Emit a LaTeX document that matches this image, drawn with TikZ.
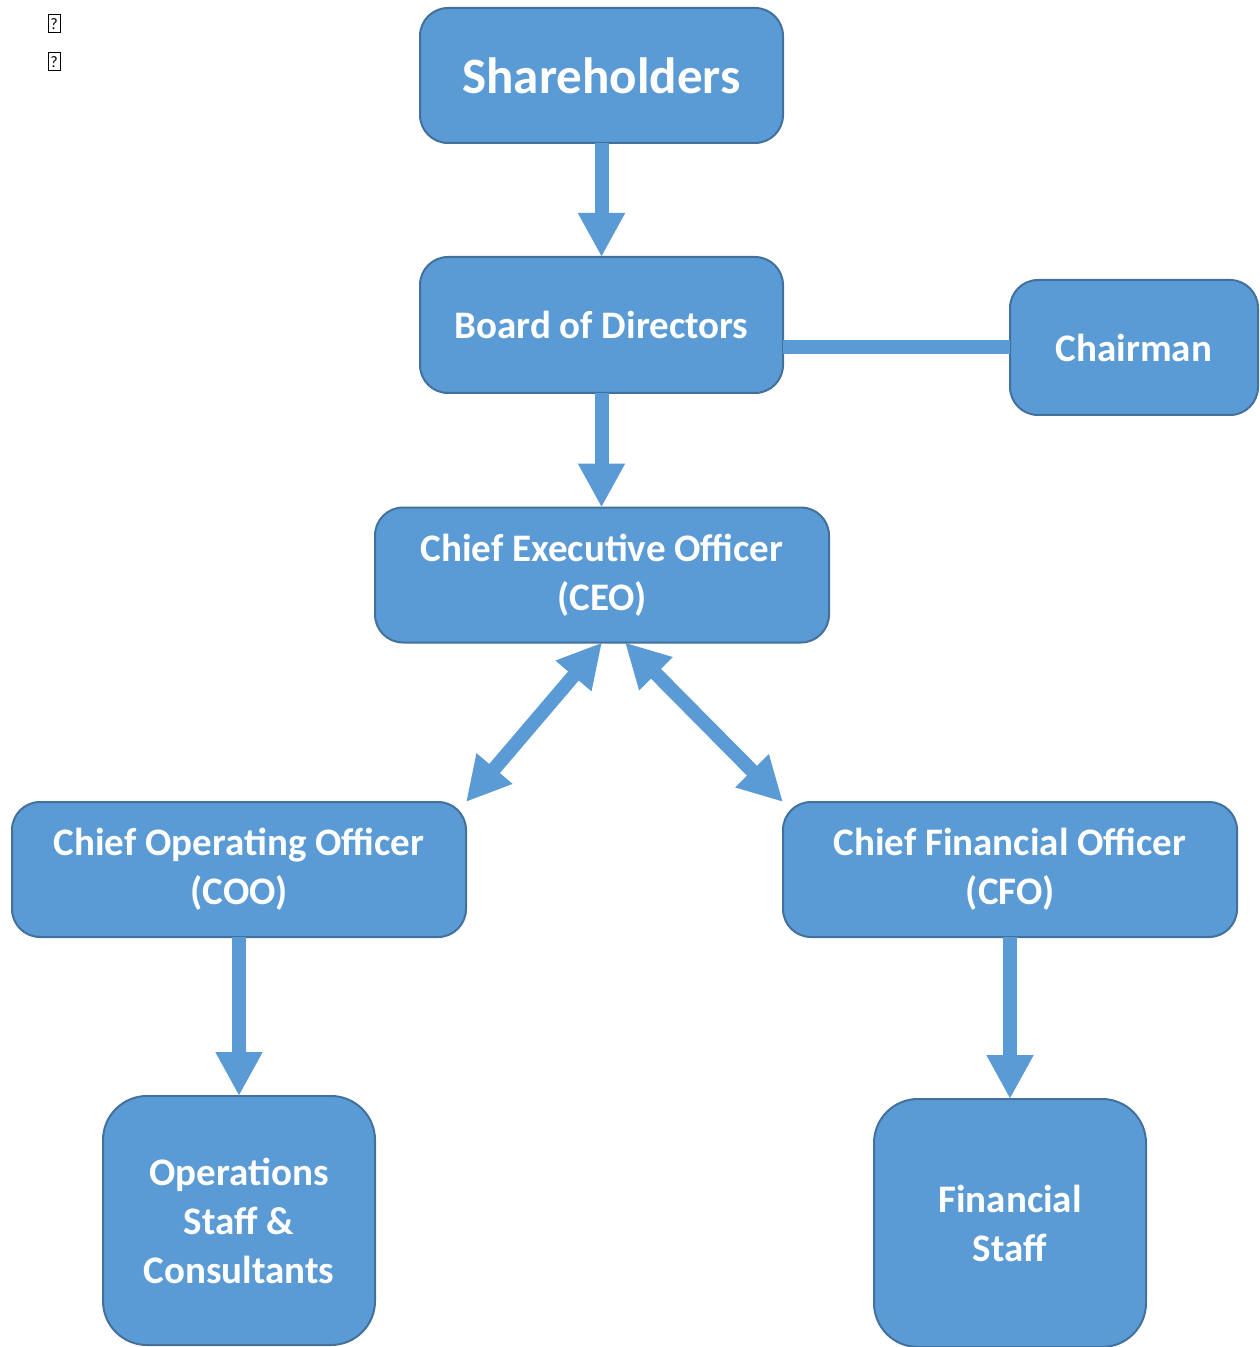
\documentclass[tikz,border=0pt]{standalone}
\usepackage{fontspec}
\setmainfont{Carlito}
\usetikzlibrary{
  arrows.meta,
  positioning,
}
\definecolor{boxblue}{HTML}{5B9BD5}
\definecolor{boxedge}{HTML}{41719C}
\tikzset{
  x = 0.5pt,
  y = -0.5pt,
  n/.style={
    draw=boxedge, fill=boxblue, line width=1pt, rounded corners=14pt,
    minimum width=227pt, minimum height=67.5pt, align=center,
    inner sep=0pt, outer sep=0pt, text=white,
    font=\fontsize{19.5}{24.5}\selectfont\bfseries,
  },
  >={Triangle[width=22pt,length=22pt]},
  link/.style={draw=boxblue, line width=7pt},
  tofu/.style={draw, line width=0.5pt, inner sep=0.5pt,
    minimum width=6pt, minimum height=9pt,
    font=\fontsize{8}{8}\selectfont},
}

\begin{document}
\begin{tikzpicture}
  \useasboundingbox (0,0) rectangle (1259,1347);
  %%
  \node[tofu] (TofuA) at (54,24) {?};
  \node[tofu] (TofuB) at (54,62) {?};
  %%
  \node[n, minimum width=181.5pt,
  font=\fontsize{25.5}{30}\selectfont\bfseries]
  (Share) at (601.5,75.5) {Shareholders};
  \node[n, minimum width=181.5pt, minimum height=68pt]
  (Board) at (601.5,325) {Board of Directors};
  \node[n, minimum width=124pt] (Chair) at (1134,347.5) {Chairman};
  \node[n] (CEO) at (602,575) {Chief Executive Officer\\(CEO)};
  \node[n] (COO) at (239,869.5) {Chief Operating Officer\\(COO)};
  \node[n] (CFO) at (1010,869.5) {Chief Financial Officer\\(CFO)};
  \node[n, minimum width=136pt, minimum height=124.5pt,
  rounded corners=22pt]
  (Ops) at (239,1220.5) {Operations\\Staff \&\\Consultants};
  \node[n, minimum width=136pt, minimum height=124pt,
  rounded corners=22pt]
  (Fin) at (1010,1223) {Financial\\Staff};
  %%
  \draw[link,->] (Share.south) -- (Board.north);
  \draw[link,->] (Board.south) -- (Board.south |- CEO.north);
  \draw[link] (Chair.west) -- (Chair.west -| Board.east);
  %%
  \draw[link,<->] (CEO.south) -- (COO.north east);
  \draw[link,<->] ([xshift=11.5pt]CEO.south) -- (CFO.north west);
  %%
  \draw[link,->] (COO.south) -- (Ops.north);
  \draw[link,->] (CFO.south) -- (Fin.north);
\end{tikzpicture}
\end{document}
